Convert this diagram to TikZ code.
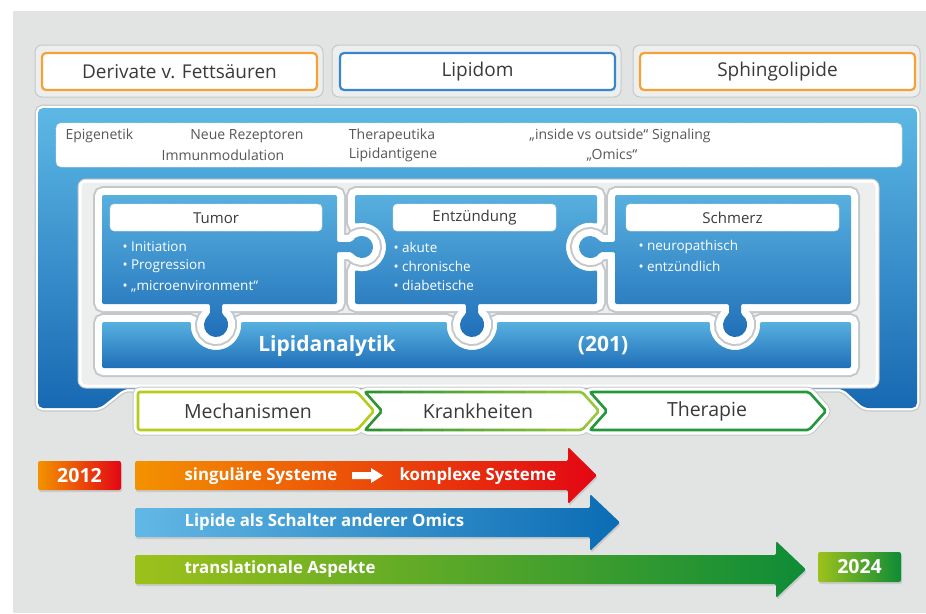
\documentclass[tikz,border=0pt]{standalone}
\usepackage{fontspec}
\setmainfont{Open Sans}
\definecolor{bggray}{HTML}{E2E4E3}
\definecolor{framegray}{HTML}{C4C8CA}
\definecolor{framefill}{HTML}{EDEFEF}
\definecolor{shadowc}{HTML}{C9CBCA}
\definecolor{orangeb}{HTML}{F4A236}
\definecolor{blueb}{HTML}{3B86CB}
\definecolor{paneltop}{HTML}{5DB8E5}
\definecolor{panelbot}{HTML}{1769B2}
\definecolor{piecetop}{HTML}{58B0DF}
\definecolor{piecebot}{HTML}{1F6FB8}
\definecolor{txtdark}{HTML}{3A3A3A}
\definecolor{mechg}{HTML}{B4CC1C}
\definecolor{krankL}{HTML}{2F9332}
\definecolor{krankR}{HTML}{9CC83A}
\definecolor{therg}{HTML}{23973A}
\definecolor{orgc}{HTML}{F39200}
\definecolor{redc}{HTML}{E30613}
\definecolor{lblue}{HTML}{62B8E5}
\definecolor{dblue}{HTML}{0B6CB4}
\definecolor{lgreen}{HTML}{9DC11B}
\definecolor{dgreen}{HTML}{0E8C37}
\newcommand{\myPanelP}{(38,108) -- (917,108) -- (917,408) -- (864,408) -- (843,389) -- (124,389) -- (100,408) -- (38,408) -- cycle}
\newcommand{\myBarP}{(102,322) -- (191.18,322) arc[start angle=173.11, end angle=366.89, radius=25pt]
  -- (447.18,322) arc[start angle=173.11, end angle=366.89, radius=25pt]
  -- (710.18,322) arc[start angle=173.11, end angle=366.89, radius=25pt]
  -- (851,322) -- (851,368) -- (102,368) -- cycle}
\newcommand{\myEntzP}{(355,195) -- (597,195) -- (597,224.04) arc[start angle=73.04, end angle=286.96, radius=24pt]
  -- (597,304) -- (478,304) -- (478,314.61) arc[start angle=60, end angle=-240, radius=12pt]
  -- (466,304) -- (355,304) -- (355,269.96) arc[start angle=-106.96, end angle=106.96, radius=24pt]
  -- cycle}
\newcommand{\myTumorP}{(102,195) -- (337,195) -- (337,242) -- (352.2,242) arc[start angle=152.96, end angle=-152.96, radius=11pt]
  -- (337,252) -- (337,304) -- (222,304) -- (222,314.61) arc[start angle=60, end angle=-240, radius=12pt]
  -- (210,304) -- (102,304) -- cycle}
\newcommand{\mySchmerzP}{(615,195) -- (851,195) -- (851,304) -- (741,304) -- (741,314.61) arc[start angle=60, end angle=-240, radius=12pt]
  -- (729,304) -- (615,304) -- (615,252) -- (599.8,252) arc[start angle=-27.04, end angle=-332.96, radius=11pt]
  -- (615,242) -- cycle}
\newcommand{\myMechP}{(138,392) -- (357,392) -- (374,411) -- (357,430) -- (138,430) -- cycle}
\newcommand{\myKrankP}{(365,392) -- (582,392) -- (599,411) -- (582,430) -- (365,430) -- (382,411) -- cycle}
\newcommand{\myTherP}{(590,392) -- (809,392) -- (826,411) -- (809,430) -- (590,430) -- (607,411) -- cycle}
\newcommand{\myArrowA}{(135,461) -- (568,461) -- (568,447) -- (597,475.5) -- (568,504) -- (568,490) -- (135,490) -- cycle}
\newcommand{\myArrowB}{(135,508) -- (590,508) -- (590,494) -- (620,522.5) -- (590,551) -- (590,537) -- (135,537) -- cycle}
\newcommand{\myArrowC}{(135,555) -- (776,555) -- (776,541) -- (806,569.5) -- (776,598) -- (776,584) -- (135,584) -- cycle}
\begin{document}
\begin{tikzpicture}[x=1pt,y=-1pt,
  toplbl/.style={font=\fontsize{19}{21}\selectfont, text=txtdark},
  smalltxt/.style={font=\fontsize{14}{16}\selectfont, text=txtdark!85},
  ptitle/.style={font=\fontsize{15}{17}\selectfont, text=txtdark},
  bul/.style={font=\fontsize{13.5}{15}\selectfont, text=white, anchor=west},
  chevlbl/.style={font=\fontsize{19.5}{21}\selectfont, text=txtdark},
  arrowtxt/.style={font=\bfseries\fontsize{16.8}{20}\selectfont, text=white, anchor=west},
  yeartxt/.style={font=\bfseries\fontsize{19.5}{22}\selectfont, text=white},
  lipidtxt/.style={font=\bfseries\fontsize{21}{24}\selectfont, text=white},
  outerframe/.style={fill=framefill, draw=framegray, line width=1pt, rounded corners=7pt},
  innerbox/.style={fill=white, line width=2.2pt, rounded corners=4pt},
  dotbox/.style={fill=white, draw=framegray!70, densely dotted, line width=0.8pt, rounded corners=4pt},
  pgray/.style={draw=framegray, line width=18pt, rounded corners=2pt},
  pwhite/.style={draw=white, line width=14pt, rounded corners=2pt},
  pfill/.style={top color=piecetop, bottom color=piecebot, rounded corners=2pt},
  cgray/.style={draw=framegray, line width=11pt, rounded corners=3pt},
  cwhite/.style={draw=white, line width=9pt, rounded corners=3pt},
  chev/.style={fill=white, line width=2.6pt, rounded corners=2pt},
  shadowfill/.style={fill=shadowc, xshift=1pt, yshift=-2pt, rounded corners=1.5pt},
]
\useasboundingbox (0,0) rectangle (926,613);
\fill[white] (0,0) rectangle (926,613);
\fill[bggray] (13,11) rectangle (926,613);

% ---- top boxes ----
\draw[outerframe] (35,45) rectangle (323,97);
\draw[innerbox, draw=orangeb] (42,53) rectangle (317,90);
\node[toplbl] (derivate) at (179.5,71.5) {Derivate v. Fettsäuren};
\draw[outerframe] (332,45) rectangle (621,97);
\draw[innerbox, draw=blueb] (340,53) rectangle (615,90);
\node[toplbl] (lipidom) at (477.5,71.5) {Lipidom};
\draw[outerframe] (633,45) rectangle (920,97);
\draw[innerbox, draw=orangeb] (640,53) rectangle (915,90);
\node[toplbl] (sphingo) at (777.5,71.5) {Sphingolipide};

% ---- main blue panel ----
\draw[draw=framegray, line width=7pt, rounded corners=5pt] \myPanelP;
\draw[draw=white, line width=4.5pt, rounded corners=5pt] \myPanelP;
\shade[top color=paneltop, bottom color=panelbot, rounded corners=5pt] \myPanelP;

% top white box with topics
\draw[fill=white, draw=framegray!60, densely dotted, line width=0.8pt, rounded corners=5pt] (56,123) rectangle (902,167);
\node[smalltxt, anchor=west] (epi) at (62,136) {Epigenetik};
\node[smalltxt] (rezept) at (247,136) {Neue Rezeptoren};
\node[smalltxt] (immun) at (223,155) {Immunmodulation};
\node[smalltxt] (thera) at (392,136) {Therapeutika};
\node[smalltxt] (antig) at (393,155) {Lipidantigene};
\node[smalltxt] (inside) at (620,136) {„inside vs outside“ Signaling};
\node[smalltxt] (omics) at (612,155) {„Omics“};

% inner frame
\draw[draw=framegray, line width=5pt, rounded corners=6pt] (80,181) rectangle (877,386);
\draw[fill=framefill, draw=white, line width=3pt, rounded corners=6pt] (80,181) rectangle (877,386);

% ---- puzzle pieces ----
\draw[pgray] \myBarP;
\draw[pwhite] \myBarP;
\shade[pfill] \myBarP;
\draw[pgray] \myEntzP;
\draw[pwhite] \myEntzP;
\shade[pfill] \myEntzP;
\draw[pgray] \myTumorP;
\draw[pwhite] \myTumorP;
\shade[pfill] \myTumorP;
\draw[pgray] \mySchmerzP;
\draw[pwhite] \mySchmerzP;
\shade[pfill] \mySchmerzP;

% piece titles
\draw[dotbox] (110,204) rectangle (322,231);
\node[ptitle] (tumor) at (216,218) {Tumor};
\draw[dotbox] (393,204) rectangle (556,231);
\node[ptitle] (entz) at (474.5,218) {Entzündung};
\draw[dotbox] (626,204) rectangle (839,231);
\node[ptitle] (schmerz) at (732.5,218) {Schmerz};

% bullets
\node[bul] (t1) at (119,247) {• Initiation};
\node[bul] (t2) at (119,266) {• Progression};
\node[bul] (t3) at (119,286) {• „microenvironment“};
\node[bul] (e1) at (390,247) {• akute};
\node[bul] (e2) at (390,266) {• chronische};
\node[bul] (e3) at (390,285) {• diabetische};
\node[bul] (s1) at (635,247) {• neuropathisch};
\node[bul] (s2) at (635,266) {• entzündlich};

\node[lipidtxt] (lipana) at (327,346) {Lipidanalytik};
\node[lipidtxt] (n201) at (603,346) {(201)};

% ---- chevrons ----
\draw[cgray] \myMechP;
\draw[cgray] \myKrankP;
\draw[cgray] \myTherP;
\draw[cwhite] \myMechP;
\draw[cwhite] \myKrankP;
\draw[cwhite] \myTherP;
\draw[chev, draw=mechg] \myMechP;
\fill[chev] \myKrankP;
\foreach \i in {0,...,11} {
  \pgfmathsetmacro{\pct}{100-\i*9}
  \colorlet{kcol}{krankL!\pct!krankR}
  \begin{scope}
    \clip (360+\i*20.5,385) rectangle (381+\i*20.5,437);
    \draw[line width=2.6pt, rounded corners=2pt, draw=kcol] \myKrankP;
  \end{scope}
}
\draw[chev, draw=therg] \myTherP;
\node[chevlbl] (mech) at (248,411) {Mechanismen};
\node[chevlbl] (krank) at (478,411) {Krankheiten};
\node[chevlbl] (therapie) at (707,411) {Therapie};

% ---- timeline arrows ----
\fill[shadowfill] (38,461) rectangle (121,490);
\shade[left color=orgc, right color=redc, rounded corners=2pt] (38,461) rectangle (121,490);
\node[yeartxt] (y2012) at (79.5,476) {2012};

\fill[shadowfill] \myArrowA;
\shade[left color=orgc, right color=redc, middle color=orgc!50!redc, rounded corners=1.5pt] \myArrowA;
\node[arrowtxt] (sing) at (181,476) {singuläre Systeme};
\fill[white] (352,472) -- (371,472) -- (371,468) -- (383,475.5) -- (371,483) -- (371,479) -- (352,479) -- cycle;
\node[arrowtxt] (kompl) at (396,476) {komplexe Systeme};

\fill[shadowfill] \myArrowB;
\shade[left color=lblue, right color=dblue, rounded corners=1.5pt] \myArrowB;
\node[arrowtxt] (schalter) at (181,522.5) {Lipide als Schalter anderer Omics};

\fill[shadowfill] \myArrowC;
\shade[left color=lgreen, right color=dgreen, rounded corners=1.5pt] \myArrowC;
\node[arrowtxt] (transl) at (181,569.5) {translationale Aspekte};

\fill[shadowfill] (818,552) rectangle (901,582);
\shade[left color=lgreen, right color=dgreen, rounded corners=2pt] (818,552) rectangle (901,582);
\node[yeartxt] (y2024) at (859.5,567) {2024};
\end{tikzpicture}
\end{document}
